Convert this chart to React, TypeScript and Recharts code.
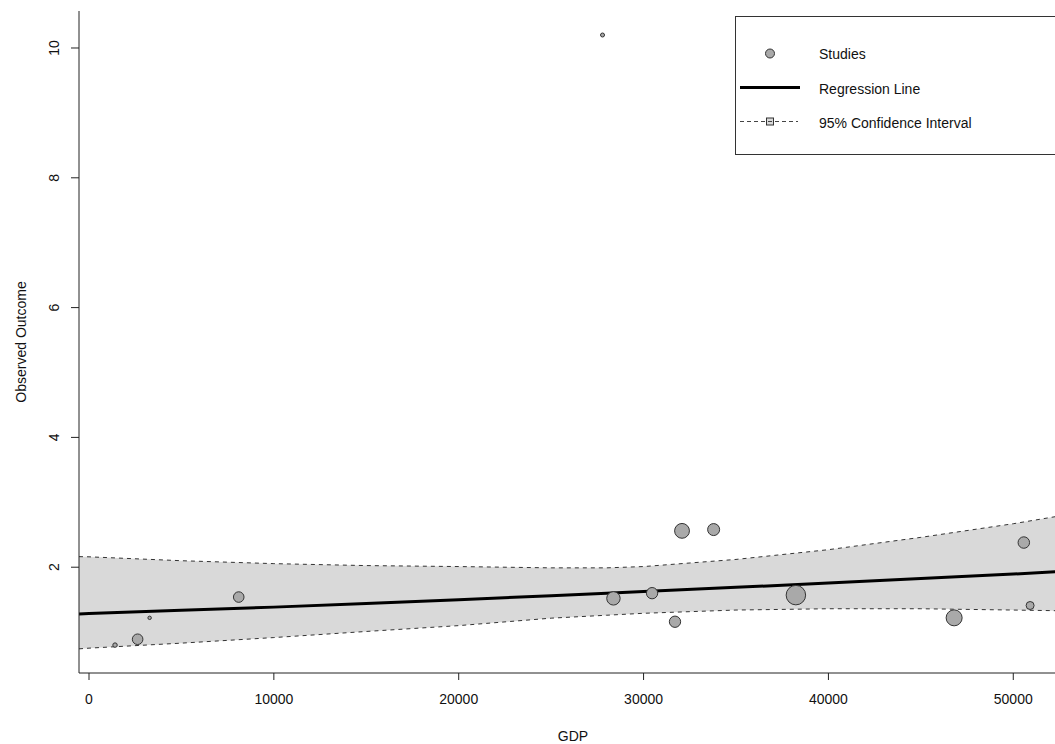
import { ComposedChart, Area, Line, Scatter, XAxis, YAxis } from 'recharts';

// regression fit and 95% CI at these GDP values
const gridGdp = [-541, 0, 5000, 10000, 15000, 20000, 25000, 28000, 30000, 35000, 40000, 45000, 50000, 52300];
const fitValues = [1.28, 1.285, 1.335, 1.385, 1.44, 1.5, 1.56, 1.6, 1.625, 1.69, 1.755, 1.825, 1.895, 1.93];
const ciUpper = [2.163, 2.16, 2.1, 2.055, 2.025, 2.01, 1.99, 1.99, 2.01, 2.12, 2.27, 2.46, 2.67, 2.78];
const ciLower = [0.742, 0.753, 0.83, 0.916, 1.01, 1.1, 1.215, 1.26, 1.29, 1.34, 1.36, 1.36, 1.34, 1.33];

// individual studies
const studyGdp = [1408, 2630, 3280, 8100, 27780, 28370, 30460, 31700, 32080, 33790, 38240, 46800, 50570, 50910];
const studyOutcome = [0.8, 0.89, 1.22, 1.54, 10.2, 1.52, 1.6, 1.16, 2.56, 2.58, 1.57, 1.22, 2.38, 1.41];
const studyWeight = [5, 28, 3, 28, 4, 45, 32, 32, 55, 36, 95, 64, 33, 16];

const xTicks = [0, 10000, 20000, 30000, 40000, 50000];
const yTicks = [2, 4, 6, 8, 10];

const FONT = '"Liberation Sans", Arial, sans-serif';
const SHADE = '#d9d9d9';
const POINT = '#a9a9a9';

const bandRows = gridGdp.map((gdp, i) => ({
  gdp,
  fit: fitValues[i],
  lo: ciLower[i],
  hi: ciUpper[i],
  band: [ciLower[i], ciUpper[i]],
}));

const studyRows = studyGdp.map((gdp, i) => ({
  gdp,
  y: studyOutcome[i],
  w: studyWeight[i],
}));

const YTick = ({ x, y, payload }: any) => (
  <text
    x={x}
    y={y}
    textAnchor="middle"
    transform={`rotate(-90 ${x} ${y})`}
    fontSize={14}
    fontFamily={FONT}
    fill="#111"
  >
    {payload.value}
  </text>
);

const YTitle = ({ viewBox }: any) => {
  const vb = viewBox || { x: 0, y: 11, width: 79, height: 662 };
  const x = vb.x + 25.5;
  const y = vb.y + vb.height / 2;
  return (
    <text
      x={x}
      y={y}
      textAnchor="middle"
      transform={`rotate(-90 ${x} ${y})`}
      fontSize={14}
      fontFamily={FONT}
      fill="#111"
    >
      Observed Outcome
    </text>
  );
};

const StudyDot = (props: any) => {
  const { cx, cy, payload } = props;
  if (cx == null || cy == null) return null;
  return (
    <circle cx={cx} cy={cy} r={Math.sqrt(payload.w)} fill={POINT} stroke="#333" strokeWidth={1} />
  );
};

function LegendBox() {
  const textStyle = { fontSize: 14, fontFamily: FONT, fill: '#111' };
  return (
    <div
      style={{
        position: 'absolute',
        left: 735,
        top: 16,
        width: 330,
        height: 139,
        border: '1px solid #333',
        background: '#fff',
        boxSizing: 'border-box',
      }}
    >
      <svg width={330} height={139} style={{ position: 'absolute', left: 0, top: 0 }}>
        <circle cx={34} cy={36.5} r={4.5} fill={POINT} stroke="#333" strokeWidth={1} />
        <text x={83} y={37} dominantBaseline="central" {...textStyle}>Studies</text>
        <line x1={4} x2={64} y1={70.5} y2={70.5} stroke="#000" strokeWidth={3} />
        <text x={83} y={72} dominantBaseline="central" {...textStyle}>Regression Line</text>
        <rect x={30.5} y={101} width={7} height={7} fill={SHADE} stroke="#333" strokeWidth={1} />
        <line x1={4} x2={62} y1={104.5} y2={104.5} stroke="#444" strokeWidth={1} strokeDasharray="4 3" />
        <text x={83} y={106} dominantBaseline="central" {...textStyle}>95% Confidence Interval</text>
      </svg>
    </div>
  );
}

export default function App() {
  return (
    <div
      style={{
        position: 'absolute',
        left: 0,
        top: 0,
        width: 1055,
        height: 744,
        overflow: 'hidden',
        background: '#fff',
      }}
    >
      <ComposedChart
        width={1067}
        height={744}
        data={bandRows}
        margin={{ top: 11, right: 0, bottom: 0, left: 0 }}
      >
        <XAxis
          dataKey="gdp"
          type="number"
          domain={[-541, 52906]}
          ticks={xTicks}
          allowDataOverflow
          stroke="#222"
          tickSize={7}
          tickMargin={14}
          height={71}
          tick={{ fontSize: 14, fontFamily: FONT, fill: '#111' }}
          label={{ value: 'GDP', position: 'insideBottom', offset: 3.5, fontSize: 14, fontFamily: FONT, fill: '#111' }}
        />
        <XAxis
          xAxisId="top"
          orientation="top"
          dataKey="gdp"
          type="number"
          domain={[-541, 52906]}
          height={0}
          tick={false}
          tickLine={false}
          stroke="#222"
        />
        <YAxis
          dataKey="y"
          type="number"
          domain={[0.37, 10.57]}
          ticks={yTicks}
          allowDataOverflow
          width={79}
          stroke="#222"
          tickSize={8}
          tickMargin={12}
          tick={<YTick />}
          label={<YTitle />}
        />
        <Area
          dataKey="band"
          type="linear"
          fill={SHADE}
          fillOpacity={1}
          stroke="none"
          isAnimationActive={false}
        />
        <Line dataKey="hi" type="linear" stroke="#333" strokeWidth={1} strokeDasharray="4 4" dot={false} isAnimationActive={false} />
        <Line dataKey="lo" type="linear" stroke="#333" strokeWidth={1} strokeDasharray="4 4" dot={false} isAnimationActive={false} />
        <Line dataKey="fit" type="linear" stroke="#000" strokeWidth={3} dot={false} isAnimationActive={false} />
        <Scatter data={studyRows} dataKey="y" shape={<StudyDot />} isAnimationActive={false} />
      </ComposedChart>
      <LegendBox />
    </div>
  );
}
